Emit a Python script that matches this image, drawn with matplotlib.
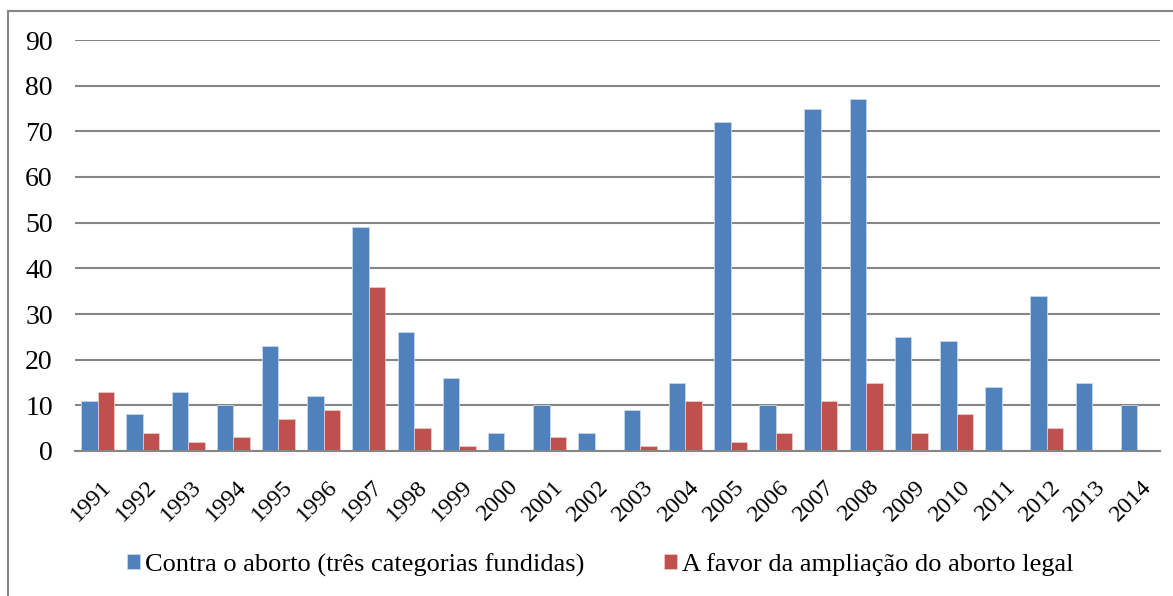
import numpy as np
import matplotlib.pyplot as plt
import matplotlib.transforms as mtransforms
from matplotlib.patches import Rectangle

plt.rcParams['font.family'] = ['Liberation Serif', 'DejaVu Serif']
plt.rcParams['font.size'] = 19

# Data
anos = [str(a) for a in range(1991, 2015)]
contra = [11, 8, 13, 10, 23, 12, 49, 26, 16, 4, 10, 4, 9, 15, 72, 10, 75, 77, 25, 24, 14, 34, 15, 10]
favor = [13, 4, 2, 3, 7, 9, 36, 5, 1, 0, 3, 0, 1, 11, 2, 4, 11, 15, 4, 8, 0, 5, 0, 0]
serie_nomes = ['Contra o aborto (três categorias fundidas)', 'A favor da ampliação do aborto legal']

W, H = 1173, 596
fig = plt.figure(figsize=(W / 100, H / 100), dpi=100)
fig.patches.append(Rectangle((8 / W, -0.1), 1.2, 1 - 11 / H + 0.1, transform=fig.transFigure,
                             fill=False, edgecolor='#868686', linewidth=1.5))

ax = fig.add_axes([75 / W, 1 - 451 / H, (1160 - 75) / W, (451 - 40) / H])

x = np.arange(len(anos))
w = 0.365
b1 = ax.bar(x - w / 2, contra, w, color='#4F81BD', edgecolor='#C9D7EA', linewidth=0.6,
            label=serie_nomes[0], zorder=3)
b2 = ax.bar(x + w / 2, favor, w, color='#C0504D', edgecolor='#EBC7C6', linewidth=0.6,
            label=serie_nomes[1], zorder=3)

ax.set_xlim(-0.5, len(anos) - 0.5)
ax.set_ylim(0, 90)
ax.set_yticks(range(0, 91, 10))
ax.set_yticklabels([str(v) for v in range(0, 91, 10)], fontsize=20)
ax.yaxis.grid(True, color='#868686', linewidth=1.5)
ax.set_axisbelow(True)
for s in ['left', 'right', 'top']:
    ax.spines[s].set_visible(False)
ax.spines['bottom'].set_color('#868686')
ax.spines['bottom'].set_linewidth(1.5)
ax.spines['bottom'].set_zorder(4)
ax.tick_params(axis='y', length=0, pad=16)
ax.tick_params(axis='x', length=0, pad=18)
ax.set_xticks(x)
ax.set_xticklabels(anos, rotation=45, ha='right', rotation_mode='anchor', fontsize=17.5)
shift = mtransforms.ScaledTranslation(3 / 100, 0, fig.dpi_scale_trans)
for lbl in ax.get_xticklabels():
    lbl.set_transform(lbl.get_transform() + shift)

fig.legend(handles=[b1, b2], loc='center', bbox_to_anchor=(600 / W, 1 - 565 / H), ncol=2,
           frameon=False, handlelength=0.5, handleheight=0.5, handletextpad=0.2,
           columnspacing=3.0, fontsize=19)

fig.savefig('out.png', dpi=100)
